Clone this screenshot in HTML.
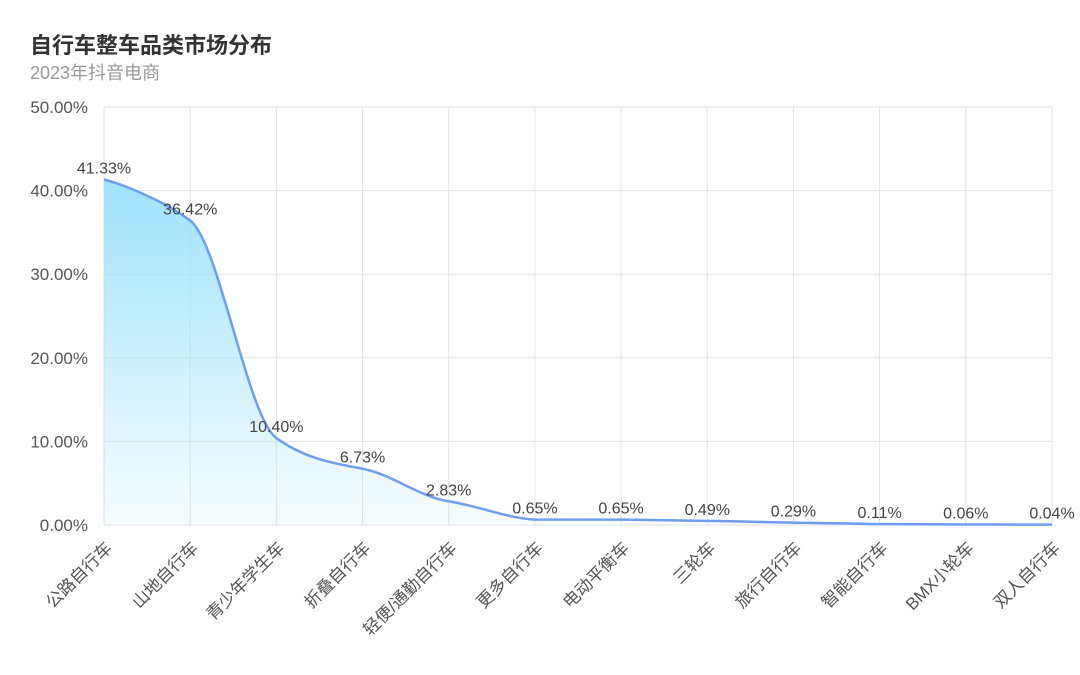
<!DOCTYPE html>
<html><head><meta charset="utf-8"><style>
body{margin:0;background:#fff;width:1080px;height:670px;overflow:hidden;font-family:"Liberation Sans","Noto Sans CJK SC",sans-serif}
</style></head><body>
<svg id="s" width="1080" height="670" xmlns="http://www.w3.org/2000/svg" font-family="Liberation Sans, Noto Sans CJK SC, sans-serif">
<defs><linearGradient id="g" x1="0" y1="0" x2="0" y2="1"><stop offset="0" stop-color="#9fe3fb"/><stop offset="1" stop-color="#9fe3fb" stop-opacity="0.08"/></linearGradient></defs>
<text x="30" y="53" font-size="22" font-weight="bold" fill="#333">自行车整车品类市场分布</text>
<text x="30" y="79" font-size="18" fill="#999">2023年抖音电商</text>
<g id="grid"></g>
<path id="area" fill="url(#g)"/>
<path id="line" fill="none" stroke="#6f9ef0" stroke-width="2.5"/>
<g id="lbl" font-size="16" fill="#444" text-anchor="middle"></g>
<g id="ax" font-size="17" fill="#555"></g>
</svg>
<script>
const ns="http://www.w3.org/2000/svg";
const cats=["公路自行车","山地自行车","青少年学生车","折叠自行车","轻便/通勤自行车","更多自行车","电动平衡车","三轮车","旅行自行车","智能自行车","BMX小轮车","双人自行车"];
const vals=[41.33,36.42,10.40,6.73,2.83,0.65,0.65,0.49,0.29,0.11,0.06,0.04];
const x0=104,x1=1052,yb=525,yt=107,dx=(x1-x0)/11;
const X=i=>x0+i*dx,Y=v=>yb-(yb-yt)*v/50;
function el(t,a,p,txt){const e=document.createElementNS(ns,t);for(const k in a)e.setAttribute(k,a[k]);if(txt!=null)e.textContent=txt;document.getElementById(p).appendChild(e);return e;}
for(let i=0;i<=5;i++){const y=Y(i*10);el("line",{x1:x0,x2:x1,y1:y,y2:y,stroke:"#e3e3e3","stroke-width":1},"grid");
el("text",{x:88,y:y+6,"text-anchor":"end"},"ax",(i*10).toFixed(2)+"%");}
for(let i=0;i<12;i++){el("line",{x1:X(i),x2:X(i),y1:yt,y2:yb,stroke:"#e3e3e3","stroke-width":1},"grid");
el("text",{x:0,y:0,"text-anchor":"end",transform:`translate(${X(i)+9},${yb+24}) rotate(-45)`},"ax",cats[i]);}
const P=vals.map((v,i)=>[X(i),Y(v)]);
let d=`M${P[0][0]},${P[0][1]}`;
for(let i=0;i<11;i++){const p0=P[Math.max(i-1,0)],p1=P[i],p2=P[i+1],p3=P[Math.min(i+2,11)];
const c1=[p1[0]+(p2[0]-p0[0])/6,p1[1]+(p2[1]-p0[1])/6*0.5],c2=[p2[0]-(p3[0]-p1[0])/6,p2[1]-(p3[1]-p1[1])/6*0.5];
c1[1]=Math.min(Math.max(c1[1],Math.min(p1[1],p2[1])),Math.max(p1[1],p2[1]));
c2[1]=Math.min(Math.max(c2[1],Math.min(p1[1],p2[1])),Math.max(p1[1],p2[1]));
d+=` C${c1[0]},${c1[1]} ${c2[0]},${c2[1]} ${p2[0]},${p2[1]}`;}
document.getElementById("line").setAttribute("d",d);
document.getElementById("area").setAttribute("d",d+` L${x1},${yb} L${x0},${yb} Z`);
P.forEach((p,i)=>el("text",{x:p[0],y:p[1]-6},"lbl",vals[i].toFixed(2)+"%"));
</script>
</body></html>
